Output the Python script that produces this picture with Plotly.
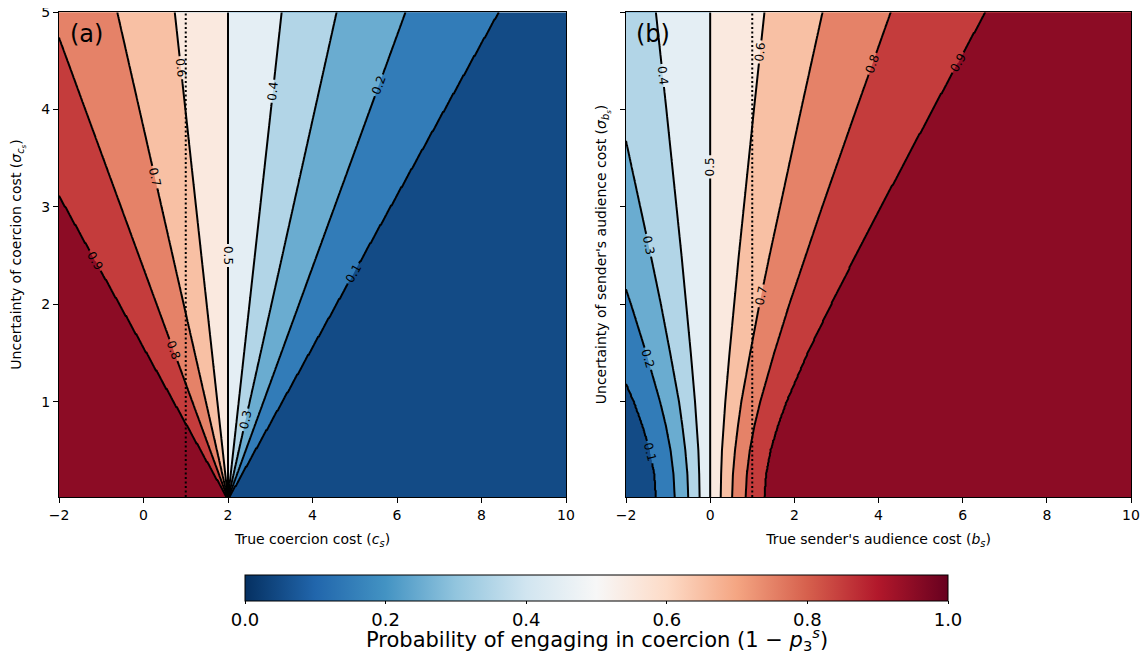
import numpy as np
import plotly.graph_objects as go

# ---------------- data ----------------
LEVELS = [0.1, 0.2, 0.3, 0.4, 0.5, 0.6, 0.7, 0.8, 0.9]

# Panel (a): every contour is a straight line from the apex (c=2, sigma=0)
# to the point where it meets the frame (c, sigma)
A_APEX = (2.0, 0.0)
A_EDGE_C = [8.4, 6.2, 4.57, 3.27, 2.0, 0.74, -0.62, -2.0, -2.0]
A_EDGE_S = [5.0, 5.0, 5.0, 5.0, 5.0, 5.0, 5.0, 4.74, 3.12]

# Panel (b): x position (b_s) of each contour at a set of sigma rows
B_SIGMA_ROWS = [0.0, 0.25, 0.5, 0.75, 1.0, 1.5, 2.0, 2.5, 3.0, 4.0, 5.0]
B_POS = [
    [-1.28, -0.84, -0.52, -0.25, 0.0, 0.25, 0.52, 0.84, 1.28],
    [-1.32, -0.87, -0.54, -0.26, 0.0, 0.26, 0.54, 0.87, 1.32],
    [-1.43, -0.94, -0.59, -0.28, 0.0, 0.28, 0.59, 0.94, 1.43],
    [-1.60, -1.05, -0.66, -0.32, 0.0, 0.32, 0.66, 1.05, 1.60],
    [-1.81, -1.19, -0.74, -0.36, 0.0, 0.36, 0.74, 1.19, 1.81],
    [-2.31, -1.52, -0.95, -0.46, 0.0, 0.46, 0.95, 1.52, 2.31],
    [-2.87, -1.88, -1.17, -0.57, 0.0, 0.57, 1.17, 1.88, 2.87],
    [-3.45, -2.27, -1.41, -0.68, 0.0, 0.68, 1.41, 2.27, 3.45],
    [-4.05, -2.66, -1.66, -0.80, 0.0, 0.80, 1.66, 2.66, 4.05],
    [-5.28, -3.47, -2.16, -1.04, 0.0, 1.04, 2.16, 3.47, 5.28],
    [-6.53, -4.29, -2.67, -1.29, 0.0, 1.29, 2.67, 4.29, 6.53],
]

VLINE_X = 1.0
X_RANGE = [-2, 10]
Y_RANGE = [0.02, 5]
X_TICKS = [-2, 0, 2, 4, 6, 8, 10]
Y_TICKS = [1, 2, 3, 4, 5]
CB_TICKS = [0.0, 0.2, 0.4, 0.6, 0.8, 1.0]

# ---------------- styles ----------------
RDBU_R = ['#053061', '#2166ac', '#4393c3', '#92c5de', '#d1e5f0', '#f7f7f7',
          '#fddbc7', '#f4a582', '#d6604d', '#b2182b', '#67001f']


def hex2rgb(h):
    return np.array([int(h[i:i + 2], 16) for i in (1, 3, 5)], dtype=float)


def mid(h1, h2):
    c = (hex2rgb(h1) + hex2rgb(h2)) / 2
    return 'rgb(%d,%d,%d)' % tuple(np.round(c))


band_colors = [mid(RDBU_R[k], RDBU_R[k + 1]) for k in range(10)]
band_scale = [[k / 9, band_colors[k]] for k in range(10)]
cont_scale = [[k / 10, RDBU_R[k]] for k in range(11)]

# ---------------- figure geometry (page has an 8px body margin) ----------------
W, H, OFF = 1132, 648, 8


def fx(px):
    return (px - OFF) / W


def fy(py):
    return 1 - (py - OFF) / H


# ---------------- build fields for Plotly's contouring ----------------
xg = np.linspace(X_RANGE[0], X_RANGE[1], 801)
yg = np.linspace(Y_RANGE[0], Y_RANGE[1], 400)

lev = np.array(LEVELS)
za = np.zeros((len(yg), len(xg)))
for j, s in enumerate(yg):
    pos = np.array([A_APEX[0] + (c - A_APEX[0]) * s / es for c, es in zip(A_EDGE_C, A_EDGE_S)])
    xp = np.concatenate(([-1e3], pos[::-1], [1e3]))
    fp = np.concatenate(([1.0], lev[::-1], [0.0]))
    za[j] = np.interp(xg, xp, fp)

bpos = np.array(B_POS)
zb = np.zeros((len(yg), len(xg)))
for j, s in enumerate(yg):
    pos = np.array([np.interp(s, B_SIGMA_ROWS, bpos[:, i]) for i in range(len(LEVELS))])
    xp = np.concatenate(([-1e3], pos, [1e3]))
    fp = np.concatenate(([0.0], lev, [1.0]))
    zb[j] = np.interp(xg, xp, fp)

contours = dict(start=0.1, end=0.9, size=0.1, coloring='fill', showlabels=True,
                labelfont=dict(size=12, color='black', family='DejaVu Sans'),
                labelformat='.1f')

fig = go.Figure()
fig.add_trace(go.Contour(x=xg, y=yg, z=za, autocontour=False, contours=contours,
                         colorscale=band_scale, showscale=False,
                         line=dict(color='black', width=2),
                         hoverinfo='skip', xaxis='x', yaxis='y'))
fig.add_trace(go.Contour(x=xg, y=yg, z=zb, autocontour=False, contours=contours,
                         colorscale=band_scale, showscale=False,
                         line=dict(color='black', width=2),
                         hoverinfo='skip', xaxis='x2', yaxis='y2'))

# continuous colorbar
fig.add_trace(go.Scatter(
    x=[-100], y=[-100], mode='markers', xaxis='x', yaxis='y', showlegend=False,
    hoverinfo='skip',
    marker=dict(size=0.1, color=[0.5], cmin=0, cmax=1, colorscale=cont_scale,
                showscale=True,
                colorbar=dict(orientation='h', x=fx(596.5), xanchor='center',
                              y=fy(575), yanchor='top', len=703, lenmode='pixels',
                              thickness=26, thicknessmode='pixels', xpad=0, ypad=0,
                              outlinewidth=1, outlinecolor='black',
                              ticks='outside', ticklen=3, tickwidth=1, tickcolor='black',
                              tickvals=CB_TICKS, ticktext=['%.1f' % t for t in CB_TICKS],
                              tickfont=dict(size=18)))))

axis_common = dict(showline=True, mirror=True, linecolor='black', linewidth=1,
                   ticks='outside', ticklen=5, tickwidth=1, tickcolor='black',
                   showgrid=False, zeroline=False, tickfont=dict(size=14),
                   automargin=False, ticklabeloverflow='allow')

Y_VIEW = [Y_RANGE[0], Y_RANGE[1] + 0.002]

fig.update_layout(
    width=W, height=H, margin=dict(l=0, r=0, t=0, b=0, autoexpand=False),
    paper_bgcolor='white', plot_bgcolor='white',
    font=dict(family='DejaVu Sans', size=14, color='black'),
    showlegend=False,
    xaxis=dict(domain=[fx(59), fx(566)], range=X_RANGE, tickvals=X_TICKS,
               anchor='y', title=dict(text='True coercion cost (<i>c</i><sub><i>s</i></sub>)',
                                      font=dict(size=14), standoff=12), **axis_common),
    yaxis=dict(domain=[fy(497), fy(12)], range=Y_VIEW, tickvals=Y_TICKS,
               anchor='x', title=dict(text='Uncertainty of coercion cost (<i>σ</i><sub><i>c</i><sub><i>s</i></sub></sub>)',
                                      font=dict(size=14), standoff=16), **axis_common),
    xaxis2=dict(domain=[fx(626), fx(1131)], range=X_RANGE, tickvals=X_TICKS,
                anchor='y2', title=dict(text="True sender's audience cost (<i>b</i><sub><i>s</i></sub>)",
                                        font=dict(size=14), standoff=12), **axis_common),
    yaxis2=dict(domain=[fy(497), fy(12)], range=Y_VIEW, tickvals=Y_TICKS,
                showticklabels=False, anchor='x2',
                title=dict(text="Uncertainty of sender's audience cost (<i>σ</i><sub><i>b</i><sub><i>s</i></sub></sub>)",
                           font=dict(size=14), standoff=10), **axis_common),
    shapes=[
        dict(type='line', xref='x', yref='y', x0=VLINE_X, x1=VLINE_X, y0=Y_RANGE[0], y1=Y_RANGE[1],
             line=dict(color='black', width=2, dash='2px,2.5px'), layer='above'),
        dict(type='line', xref='x2', yref='y2', x0=VLINE_X, x1=VLINE_X, y0=Y_RANGE[0], y1=Y_RANGE[1],
             line=dict(color='black', width=2, dash='2px,2.5px'), layer='above'),
    ],
    annotations=[
        dict(text='(a)', xref='paper', yref='paper', x=fx(68), y=fy(34),
             xanchor='left', yanchor='middle', showarrow=False, font=dict(size=24)),
        dict(text='(b)', xref='paper', yref='paper', x=fx(634), y=fy(34),
             xanchor='left', yanchor='middle', showarrow=False, font=dict(size=24)),
        dict(text='Probability of engaging in coercion (1 − <i>p</i><sub>3</sub><sup><i>s</i></sup>)',
             xref='paper', yref='paper', x=fx(596.5), y=0.0, xanchor='center', yanchor='bottom',
             showarrow=False, font=dict(size=21)),
    ],
)

fig.write_html('out.html')
